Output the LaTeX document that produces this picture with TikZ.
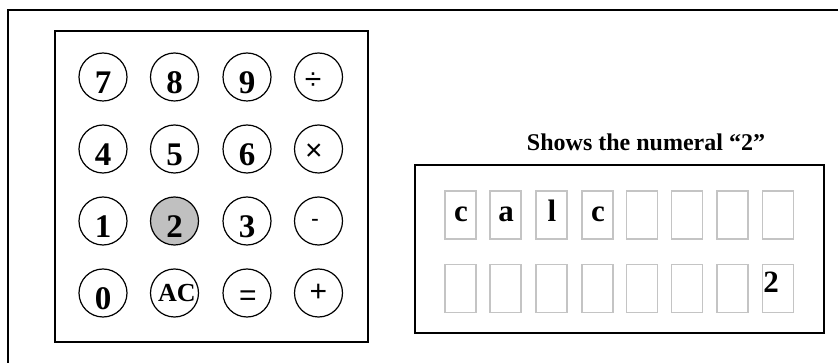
\documentclass[tikz,border=0pt]{standalone}
\usepackage{fontspec}
\setmainfont{Liberation Serif}
\newfontfamily\opfont{Liberation Sans}
\usetikzlibrary{calc}
\definecolor{cellgray}{HTML}{C4C4C4}
\definecolor{keyfill}{HTML}{C0C0C0}
\tikzset{
  frame/.style={draw=black,line width=1.4pt},
  key/.style={circle,draw=black,line width=1.2pt,minimum size=48pt,inner sep=0pt},
  digit/.style={anchor=base,inner sep=0pt,font=\fontsize{33}{33}\selectfont\bfseries},
  optxt/.style={inner sep=0pt,font=\fontsize{30}{30}\opfont},
  cell/.style={draw=cellgray,line width=1.3pt,minimum width=31pt,minimum height=48pt,inner sep=0pt},
  celltxt/.style={anchor=base,inner sep=0pt,font=\fontsize{31}{31}\selectfont\bfseries},
  caption/.style={anchor=base,inner sep=0pt,font=\fontsize{24}{24}\selectfont\bfseries}
}
\begin{document}
\begin{tikzpicture}[x=1pt,y=-1pt]
\useasboundingbox (0,0) rectangle (838,363);
% outer frame
\draw[line width=1.3pt] (8,10) rectangle (850,375);
% keypad box
\node[frame,minimum width=313pt,minimum height=311pt,inner sep=0pt] (pad) at (211.5,186.5) {};
% keys
\foreach \lab/\cx/\cy in {7/103/77,8/174.5/77,9/247/77,4/103/149,5/174.5/149,6/247/149,1/103/221,3/247/221,0/103/293}{
  \node[key] (k\lab) at (\cx,\cy) {};
  \node[digit] (t\lab) at ($(k\lab)+(0,16.5)$) {\lab};
}
\node[key,fill=keyfill] (k2) at (174.5,221) {};
\node[digit] (t2) at ($(k2)+(0,16.5)$) {2};
\node[key] (kac) at (174.5,293) {};
\node[inner sep=0pt,font=\fontsize{26}{26}\selectfont\bfseries] (tac) at ($(kac)+(2.5,0)$) {AC};
\node[key] (kdiv) at (318.5,77) {};
\node[optxt] (tdiv) at ($(kdiv)+(-5.5,4)$) {÷};
\node[key] (kmul) at (318.5,149) {};
\node[optxt] (tmul) at ($(kmul)+(-4.5,3)$) {×};
\node[key] (ksub) at (318.5,221) {};
\node[inner sep=0pt,font=\fontsize{22}{22}\selectfont\bfseries] (tsub) at ($(ksub)+(-3.5,1.5)$) {-};
\node[key] (keq) at (247,293) {};
\node[optxt] (teq) at ($(keq)+(1,5)$) {=};
\node[key] (kadd) at (318.5,293) {};
\node[optxt] (tadd) at ($(kadd)+(0,0)$) {+};
% display
\node[caption] (cap) at (646,151) {Shows the numeral “2”};
\node[frame,minimum width=409pt,minimum height=168pt,inner sep=0pt] (disp) at (619.5,249) {};
\foreach \i/\x in {1/460.5,2/505.5,3/551.5,4/597.5,5/642,6/687,7/732.5,8/778}{
  \node[cell] (a\i) at (\x,215) {};
  \node[cell] (b\i) at (\x,288.5) {};
}
\node[celltxt] (l1) at ($(a1.center)+(0.5,7)$) {c};
\node[celltxt] (l2) at ($(a2.center)+(0.5,7)$) {a};
\node[celltxt] (l3) at ($(a3.center)+(0.5,7)$) {l};
\node[celltxt] (l4) at ($(a4.center)+(0.5,7)$) {c};
\node[celltxt] (l5) at ($(b8.center)+(-7,4.5)$) {2};
\end{tikzpicture}
\end{document}
